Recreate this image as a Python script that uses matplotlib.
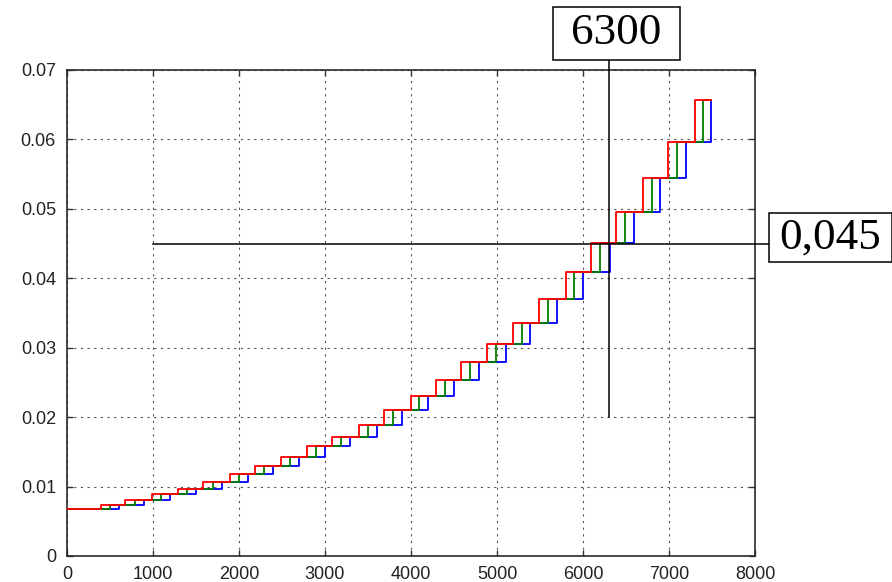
import matplotlib
matplotlib.use("Agg")
import matplotlib.pyplot as plt
from matplotlib.patches import Rectangle

# Step positions (x where each series jumps) and levels after each jump
red_steps = [390, 680, 985, 1285, 1585, 1890, 2190, 2490, 2790, 3080,
             3390, 3690, 3995, 4290, 4580, 4880, 5190, 5490, 5800, 6090,
             6385, 6700, 6990, 7300]
green_steps = [495, 785, 1090, 1395, 1695, 1995, 2295, 2595, 2895, 3185,
               3495, 3795, 4095, 4395, 4685, 4990, 5290, 5595, 5900, 6200,
               6490, 6800, 7095, 7395]
blue_steps = [605, 895, 1200, 1505, 1805, 2100, 2400, 2700, 3000, 3290,
              3600, 3895, 4200, 4500, 4795, 5105, 5385, 5700, 6005, 6310,
              6595, 6895, 7200, 7490]
levels = [0.0067, 0.0073, 0.0081, 0.0089, 0.0097, 0.0107, 0.0118, 0.0129,
          0.0143, 0.0158, 0.0172, 0.0189, 0.0210, 0.0231, 0.0254, 0.0279,
          0.0306, 0.0336, 0.0370, 0.0409, 0.0451, 0.0495, 0.0544, 0.0597,
          0.0657]
x_start = 0
x_end = 7490

marker_x = 6300
marker_y = 0.045
marker_x_from = 1000
marker_y_from = 0.02

x_ticks = [0, 1000, 2000, 3000, 4000, 5000, 6000, 7000, 8000]
x_labels = ["0", "1000", "2000", "3000", "4000", "5000", "6000", "7000", "8000"]
y_ticks = [0, 0.01, 0.02, 0.03, 0.04, 0.05, 0.06, 0.07]
y_labels = ["0", "0.01", "0.02", "0.03", "0.04", "0.05", "0.06", "0.07"]

W, H = 892, 582
fig = plt.figure(figsize=(W / 100, H / 100), dpi=100)
ax = fig.add_axes([67 / W, 26 / H, 688 / W, 486 / H])

def staircase(steps):
    xs = [x_start] + list(steps)
    ys = list(levels)
    if xs[-1] < x_end:
        xs.append(x_end)
        ys.append(levels[-1])
    return xs, ys

for steps, col in [(blue_steps, "#0000ff"), (green_steps, "#008000"),
                   (red_steps, "#ff0000")]:
    xs, ys = staircase(steps)
    ax.step(xs, ys, where="post", color=col, lw=1.3, zorder=3)

ax.set_xlim(0, 8000)
ax.set_ylim(0, 0.07)
ax.set_xticks(x_ticks)
ax.set_xticklabels(x_labels)
ax.set_yticks(y_ticks)
ax.set_yticklabels(y_labels)

tick_font = dict(family=["Liberation Sans", "DejaVu Sans"], size=13)
for lab in ax.get_xticklabels() + ax.get_yticklabels():
    lab.set_fontfamily(tick_font["family"])
    lab.set_fontsize(tick_font["size"])
    lab.set_color("#222222")

ax.tick_params(direction="in", length=4, width=1.0, top=True, right=True,
               colors="#333333", labelcolor="#222222")
ax.tick_params(axis="x", pad=7)
ax.tick_params(axis="y", pad=8)
for sp in ax.spines.values():
    sp.set_linewidth(1.2)
    sp.set_color("#2a2a2a")

ax.grid(True, color="#555555", lw=0.8, linestyle=(0, (2, 4)), zorder=1)
ax.set_axisbelow(True)

# Reference lines running out of the axes to their labels
ymax = ax.get_ylim()[1]
xmax = ax.get_xlim()[1]
ax.plot([marker_x, marker_x], [marker_y_from, ymax * 1.0206], color="black",
        lw=1.1, clip_on=False, zorder=4)
ax.plot([marker_x_from, xmax * 1.0203], [marker_y, marker_y], color="black",
        lw=1.1, clip_on=False, zorder=4)

serif = ["Liberation Serif", "DejaVu Serif"]
# Label boxes
box_a = (553, 7, 127, 53)
box_b = (769, 213, 123, 49)
for (bx, by, bw, bh), txt in [(box_a, f"{marker_x}"),
                              (box_b, f"{marker_y:.3f}".replace(".", ","))]:
    fig.patches.append(Rectangle((bx / W, 1 - (by + bh) / H), bw / W, bh / H,
                                 transform=fig.transFigure, fill=True,
                                 facecolor="white", edgecolor="black", lw=1.1))
    fig.text((bx + bw / 2) / W, 1 - (by + bh / 2) / H, txt, ha="center",
             va="center", family=serif, size=32.5, color="black")

fig.savefig("out.png", dpi=100)
